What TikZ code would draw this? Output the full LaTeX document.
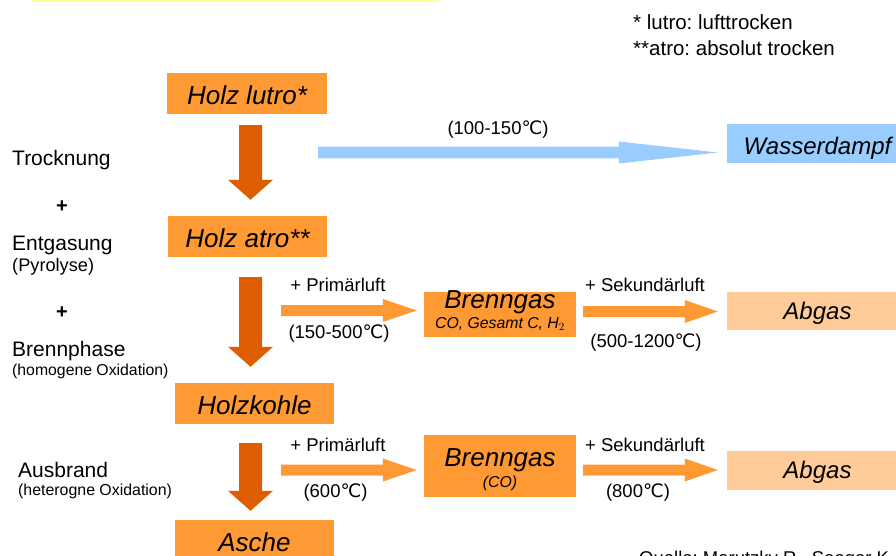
\documentclass[tikz,border=0pt]{standalone}
\usepackage{fontspec}
\setmainfont{Liberation Sans}
\newfontfamily\symfont{DejaVu Sans}
\usetikzlibrary{calc}
\frenchspacing

\definecolor{orbox}{RGB}{255,153,51}
\definecolor{lightbox}{RGB}{255,204,153}
\definecolor{steam}{RGB}{153,204,255}
\definecolor{darkor}{RGB}{221,94,0}
\definecolor{topbar}{RGB}{255,255,153}

\newcommand\degc{{\symfont\char"2103}}

% fat downward arrow between two stacked nodes
\newcommand\fatdown[4]{%
  \fill[darkor] let \p1=($(col |- #1.south)+(0,#3)$), \p2=($(col |- #2.north)+(0,-#4)$) in
    (\x1-11.5pt,\y1) -- (\x1+11.5pt,\y1) -- (\x1+11.5pt,\y2+20pt) -- (\x1+22.5pt,\y2+20pt)
    -- (\x1,\y2) -- (\x1-22.5pt,\y2+20pt) -- (\x1-11.5pt,\y2+20pt) -- cycle;}

% fat rightward arrow: style, start, end, shaft half, head half, head length
\newcommand\fatright[6]{%
  \fill[#1] let \p1=(#2), \p2=(#3) in
    (\x1,\y1+#4) -- (\x2-#6,\y1+#4) -- (\x2-#6,\y1+#5) -- (\x2,\y1)
    -- (\x2-#6,\y1-#5) -- (\x2-#6,\y1-#4) -- (\x1,\y1-#4) -- cycle;}

\tikzset{
  obox/.style={fill=orbox, inner sep=0pt, text height=21pt, text depth=0pt,
    font=\fontsize{26}{30}\selectfont\itshape},
  lbox/.style={inner sep=0pt, text height=16.6pt, text depth=0pt,
    font=\fontsize{24}{28}\selectfont\itshape},
  gasbox/.style={fill=orbox, inner sep=0pt, minimum width=152pt},
  gastitle/.style={anchor=base, inner sep=0pt, font=\fontsize{26}{30}\selectfont\itshape},
  gassub/.style={anchor=base, inner sep=0pt, font=\fontsize{15.8}{18}\selectfont\itshape},
  steplabel/.style={anchor=base west, inner sep=0pt, font=\fontsize{21}{25}\selectfont},
  stepnote/.style={anchor=base west, inner sep=0pt},
  plus/.style={inner sep=0pt, font=\fontsize{20}{24}\selectfont\bfseries},
  arrowlabel/.style={anchor=base, inner sep=0pt, font=\fontsize{18.5}{22}\selectfont},
  note/.style={anchor=base west, inner sep=0pt, font=\fontsize{20.5}{24}\selectfont},
}

\begin{document}
\begin{tikzpicture}[x=1pt,y=-1pt]
\useasboundingbox (0,0) rectangle (896,555);
\clip (0,0) rectangle (896,555);

% thin highlight strip along the top
\fill[topbar] (32,0) rectangle (439,1.5);

% footnotes
\node[note] (n1) at (633,29) {* lutro: lufttrocken};
\node[note] (n2) at (633,55) {**atro: absolut trocken};

% process steps on the left
\node[steplabel] (t1) at (12,165) {Trocknung};
\node[plus] (p1) at (62,207) {+};
\node[steplabel] (t2) at (12,250) {Entgasung};
\node[stepnote, font=\fontsize{18.2}{22}\selectfont] (t2s) at (12,271) {(Pyrolyse)};
\node[plus] (p2) at (62,313) {+};
\node[steplabel] (t3) at (12,356) {Brennphase};
\node[stepnote, font=\fontsize{15.8}{18}\selectfont] (t3s) at (12,375.5) {(homogene Oxidation)};
\node[steplabel] (t4) at (18,477) {Ausbrand};
\node[stepnote, font=\fontsize{15.9}{18}\selectfont] (t4s) at (18,495) {(heterogne Oxidation)};

% main material chain
\coordinate (col) at (250.5,0);
\node[obox, minimum width=160pt, minimum height=41pt] (lutro) at (247,93.5) {Holz lutro*};
\node[obox, minimum width=159pt, minimum height=41pt] (atro) at (247.5,236.5) {Holz atro**};
\node[obox, minimum width=159pt, minimum height=41pt] (kohle) at (254.5,403.5) {Holzkohle};
\node[obox, minimum width=159pt, minimum height=41pt] (asche) at (254.5,540.5) {Asche};

\fatdown{lutro}{atro}{11}{16}
\fatdown{atro}{kohle}{20}{16}
\fatdown{kohle}{asche}{19}{9}

% water vapour
\node[lbox, fill=steam, text height=21pt, minimum width=181pt, minimum height=39pt] (dampf) at (817.5,143.5) {Wasserdampf};
\coordinate (ds) at (318,152.5);
\fatright{steam}{ds}{$(dampf.west)+(-9,0)$}{5.8pt}{11pt}{99pt}
\node[arrowlabel] (l0) at (498,134) {(100-150\degc)};

% gas phase, first stage
\node[gasbox, minimum height=45pt] (gas1) at (500,314.5) {};
\node[gastitle] (g1t) at ($(gas1.center)+(0,-6.5)$) {Brenngas};
\node[gassub] (g1s) at ($(gas1.center)+(0,13.5)$) {CO, Gesamt C, H$_2$};
\node[lbox, fill=lightbox, minimum width=181pt, minimum height=38pt] (abgas1) at (817.5,311) {Abgas};

\coordinate (r1) at (281,310.5);
\fatright{orbox}{r1}{$(gas1.west)+(-7,0)$}{5.5pt}{11.5pt}{34pt}
\fatright{orbox}{$(gas1.east)+(7,-3)$}{$(abgas1.west)+(-9,0)$}{5.5pt}{11.5pt}{33pt}
\node[arrowlabel] (l1) at (338,291) {+ Primärluft};
\node[arrowlabel] (l2) at (339,338) {(150-500\degc)};
\node[arrowlabel] (l3) at (645,291) {+ Sekundärluft};
\node[arrowlabel] (l4) at (646,347) {(500-1200\degc)};

% gas phase, char burnout
\node[gasbox, minimum height=62pt] (gas2) at (500,466) {};
\node[gastitle] (g2t) at ($(gas2.center)+(0,0)$) {Brenngas};
\node[gassub] (g2s) at ($(gas2.center)+(0,21)$) {(CO)};
\node[lbox, fill=lightbox, minimum width=181pt, minimum height=39pt] (abgas2) at (817.5,470.5) {Abgas};

\coordinate (r2) at (281,470);
\fatright{orbox}{r2}{$(gas2.west)+(-7,0)$}{5.5pt}{11.5pt}{34pt}
\fatright{orbox}{$(gas2.east)+(7,4)$}{$(abgas2.west)+(-9,0)$}{5.5pt}{11.5pt}{33pt}
\node[arrowlabel] (l5) at (338,451) {+ Primärluft};
\node[arrowlabel] (l6) at (335.5,497) {(600\degc)};
\node[arrowlabel] (l7) at (645,451) {+ Sekundärluft};
\node[arrowlabel] (l8) at (638,497) {(800\degc)};

% source line
\node[anchor=base west, inner sep=0pt, font=\fontsize{18.5}{22}\selectfont] (src) at (639,564) {Quelle: Marutzky R., Seeger K.};
\end{tikzpicture}
\end{document}
